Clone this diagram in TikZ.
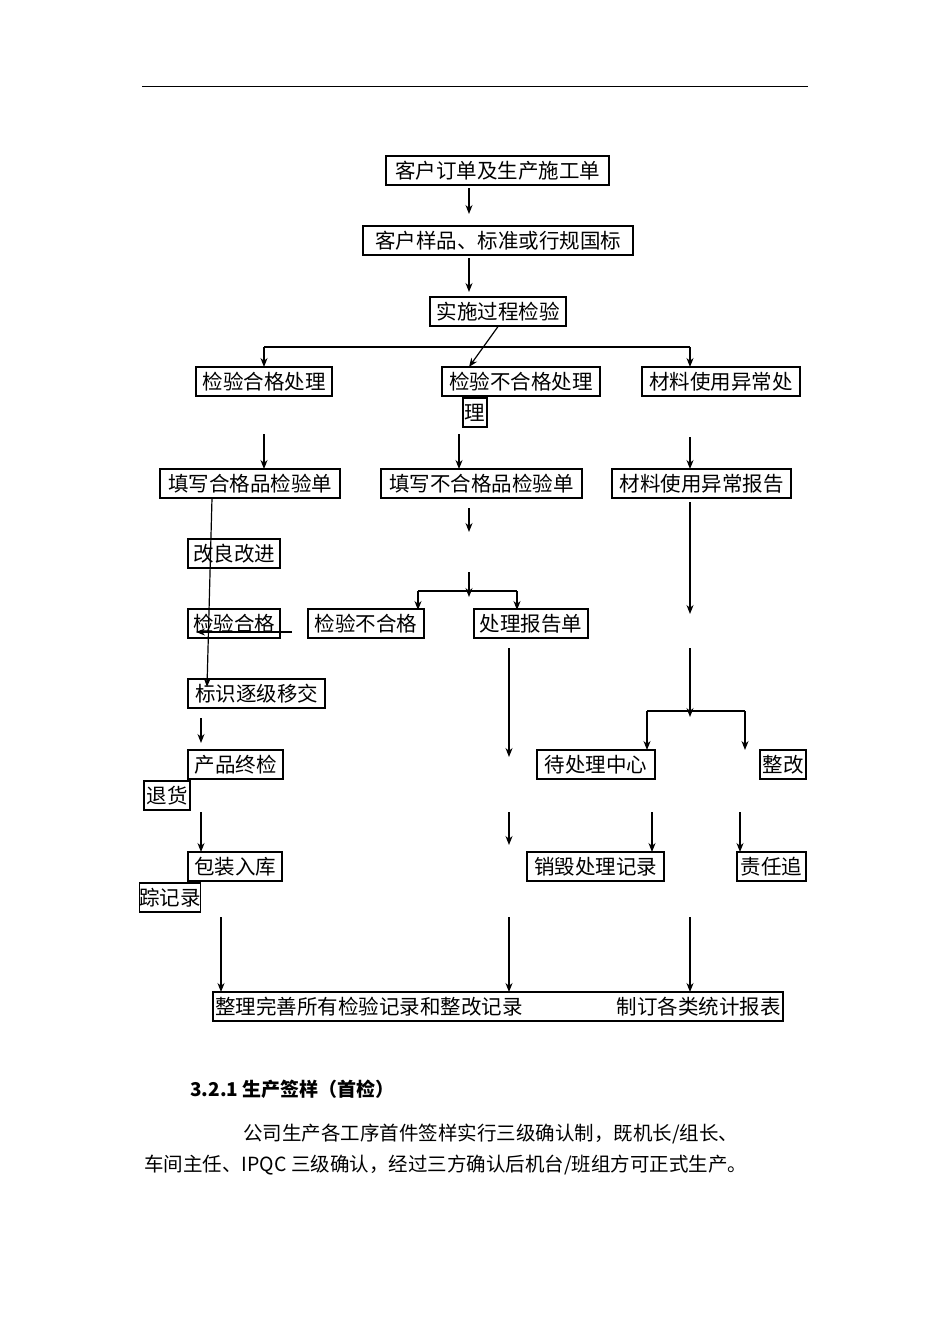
\documentclass[tikz,border=0pt]{standalone}
\usepackage{fontspec}
\setmainfont{Liberation Serif}
\newfontfamily\cjk{Noto Sans CJK SC}
\usetikzlibrary{arrows.meta}
\newcommand\bx[6]{\node[box,minimum width={#4-#2},minimum height={#5-#3}] (#1) at ({(#2+#4)/2},{(#3+#5)/2}) {#6};}
\begin{document}
\begin{tikzpicture}[x=1pt,y=-1pt,
  box/.style={draw,line width=1.1pt,inner sep=0pt,font=\cjk\fontsize{20.5}{22}\selectfont},
  ar/.style={line width=1.2pt,-{Stealth[length=9pt,width=7pt]}},
  ln/.style={line width=1.2pt}]
\useasboundingbox (0,0) rectangle (950,1344);
\draw[line width=0.6pt] (142,86) -- (808,86);
\bx{a}{386}{156}{609}{185}{客户订单及生产施工单}
\bx{b}{363}{226}{633}{255}{客户样品、标准或行规国标}
\bx{c}{430}{297}{566}{326}{实施过程检验}
\bx{d1}{196}{367}{332}{396}{检验合格处理}
\bx{d2}{442}{367}{600}{396}{检验不合格处理}
\bx{d2b}{463}{398}{487}{427}{理}
\bx{d3}{642}{367}{800}{396}{材料使用异常处}
\bx{e1}{160}{469}{340}{498}{填写合格品检验单}
\bx{e2}{381}{469}{582}{498}{填写不合格品检验单}
\bx{e3}{612}{469}{791}{498}{材料使用异常报告}
\bx{f1}{188}{539}{280}{568}{改良改进}
\bx{g1}{188}{609}{280}{638}{检验合格}
\bx{g2}{308}{609}{424}{638}{检验不合格}
\bx{g3}{474}{609}{588}{638}{处理报告单}
\bx{h1}{188}{679}{325}{708}{标识逐级移交}
\bx{i1}{188}{750}{283}{779}{产品终检}
\bx{i0}{144}{781}{190}{810}{退货}
\bx{i2}{537}{750}{655}{779}{待处理中心}
\bx{i3}{760}{750}{806}{779}{整改}
\bx{j1}{188}{852}{282}{881}{包装入库}
\bx{j0}{144}{883}{196}{912}{踪记录}
\bx{j2}{527}{852}{664}{881}{销毁处理记录}
\bx{j3}{737}{852}{806}{881}{责任追}
\bx{k}{213}{992}{783}{1021}{}
\node[anchor=west,inner sep=0pt,font=\cjk\fontsize{20.5}{22}\selectfont] (kl) at (215,1006.5) {整理完善所有检验记录和整改记录};
\node[anchor=east,inner sep=0pt,font=\cjk\fontsize{20.5}{22}\selectfont] (kr) at (781,1006.5) {制订各类统计报表};
% arrows
\draw[ar] (469,188) -- (469,214);
\draw[ar] (469,258) -- (469,292);
\draw[ar] (c.south) -- (469,367);
\draw[ln] (264,347) -- (690,347);
\draw[ar] (264,347) -- (264,367);
\draw[ar] (690,347) -- (690,367);
\draw[ar] (264,434) -- (264,469);
\draw[ar] (459,434) -- (459,469);
\draw[ar] (690,437) -- (690,469);
\draw[ar] (212,498) -- (207,687);
\draw[ar] (469,508) -- (469,532);
\draw[ar] (469,572) -- (469,597);
\draw[ln] (418,591) -- (517,591);
\draw[ar] (418,591) -- (418,610);
\draw[ar] (517,591) -- (517,610);
\draw[ar] (292,632) -- (196,632);
\draw[ar] (690,502) -- (690,614);
\draw[ar] (509,648) -- (509,757);
\draw[ar] (690,648) -- (690,717);
\draw[ln] (647,711) -- (745,711);
\draw[ar] (647,711) -- (647,750);
\draw[ar] (745,711) -- (745,750);
\draw[ar] (201,718) -- (201,743);
\draw[ar] (201,812) -- (201,852);
\draw[ar] (509,812) -- (509,845);
\draw[ar] (652,812) -- (652,852);
\draw[ar] (740,812) -- (740,852);
\draw[ar] (221,917) -- (221,992);
\draw[ar] (509,917) -- (509,992);
\draw[ar] (690,917) -- (690,992);
% text
\node[anchor=west,inner sep=0pt,font=\cjk\bfseries\fontsize{19}{22}\selectfont] (t1) at (190,1089) {\textbf{3.2.1} 生产签样（首检）};
\node[anchor=west,inner sep=0pt,font=\cjk\fontsize{19.5}{22}\selectfont] (t2) at (243,1134) {公司生产各工序首件签样实行三级确认制，既机长/组长、};
\node[anchor=west,inner sep=0pt,font=\cjk\fontsize{19.5}{22}\selectfont] (t3) at (144,1165) {车间主任、IPQC 三级确认，经过三方确认后机台/班组方可正式生产。};
\end{tikzpicture}
\end{document}
